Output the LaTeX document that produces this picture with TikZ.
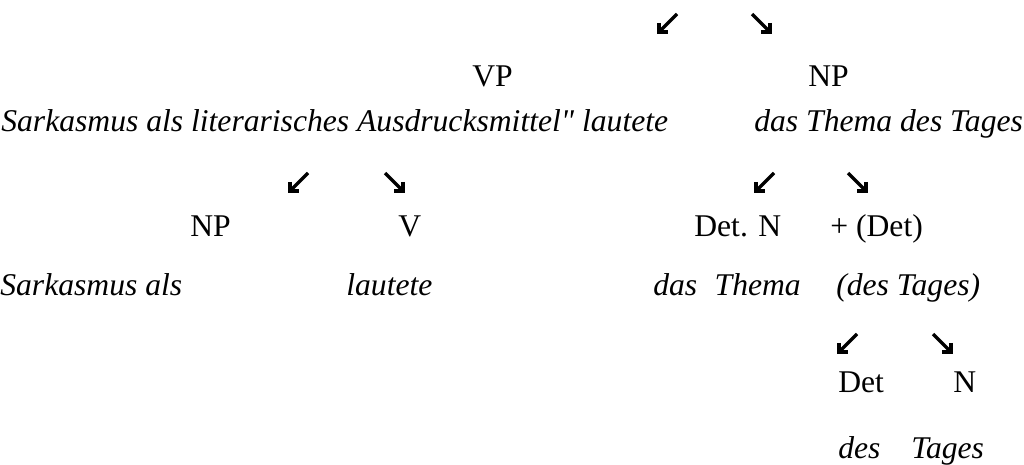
\documentclass[tikz,border=0pt]{standalone}
\usepackage{fontspec}
\setmainfont{Liberation Serif}[Ligatures=TeXOff]

\tikzset{
  cat/.style={inner sep=0pt, anchor=base west, font=\fontsize{18}{21}\selectfont},
  word/.style={cat, font=\fontsize{18}{21}\selectfont\itshape},
  branch/.style={line width=0.065cm, line join=miter},
  sw/.pic={
    \draw[branch] (9,-9) -- (-8,8);
    \draw[branch] (-9,0) -- (-9,9) -- (0,9);
  },
  se/.pic={
    \draw[branch] (-9,-9) -- (8,8);
    \draw[branch] (9,0) -- (9,9) -- (0,9);
  }
}

\begin{document}
\begin{tikzpicture}[x=0.02cm, y=-0.02cm]
  \useasboundingbox (0,0) rectangle (1024,465);

  % sentence level
  \pic at (668,23) {sw};
  \pic at (761,23) {se};
  \node[cat] (vp) at (472,87) {VP};
  \node[cat] (np) at (808,87) {NP};
  \node[word] (vpw) at (1,132) {Sarkasmus als literarisches Ausdrucksmittel" lautete};
  \node[word] (npw) at (754,132) {das Thema des Tages};

  % VP and NP split
  \pic at (299,182) {sw};
  \pic at (394,182) {se};
  \pic at (765,182) {sw};
  \pic at (857,182) {se};
  \node[cat] (np2) at (190,237) {NP};
  \node[cat] (v) at (398,237) {V};
  \node[cat] (detn) at (694,237) {Det. N};
  \node[cat] (det) at (830,237) {+ (Det)};
  \node[word] (np2w) at (0,296) {Sarkasmus als};
  \node[word] (vw) at (346,296) {lautete};
  \node[word] (detnw) at (653,296) {das\hspace{0.55em}Thema};
  \node[word] (detw) at (836,296) {(des Tages)};

  % genitive
  \pic at (848,343) {sw};
  \pic at (942,343) {se};
  \node[cat] (det2) at (838,393) {Det};
  \node[cat] (n2) at (953,393) {N};
  \node[word] (det2w) at (838,459) {des};
  \node[word] (n2w) at (911,459) {Tages};
\end{tikzpicture}
\end{document}
